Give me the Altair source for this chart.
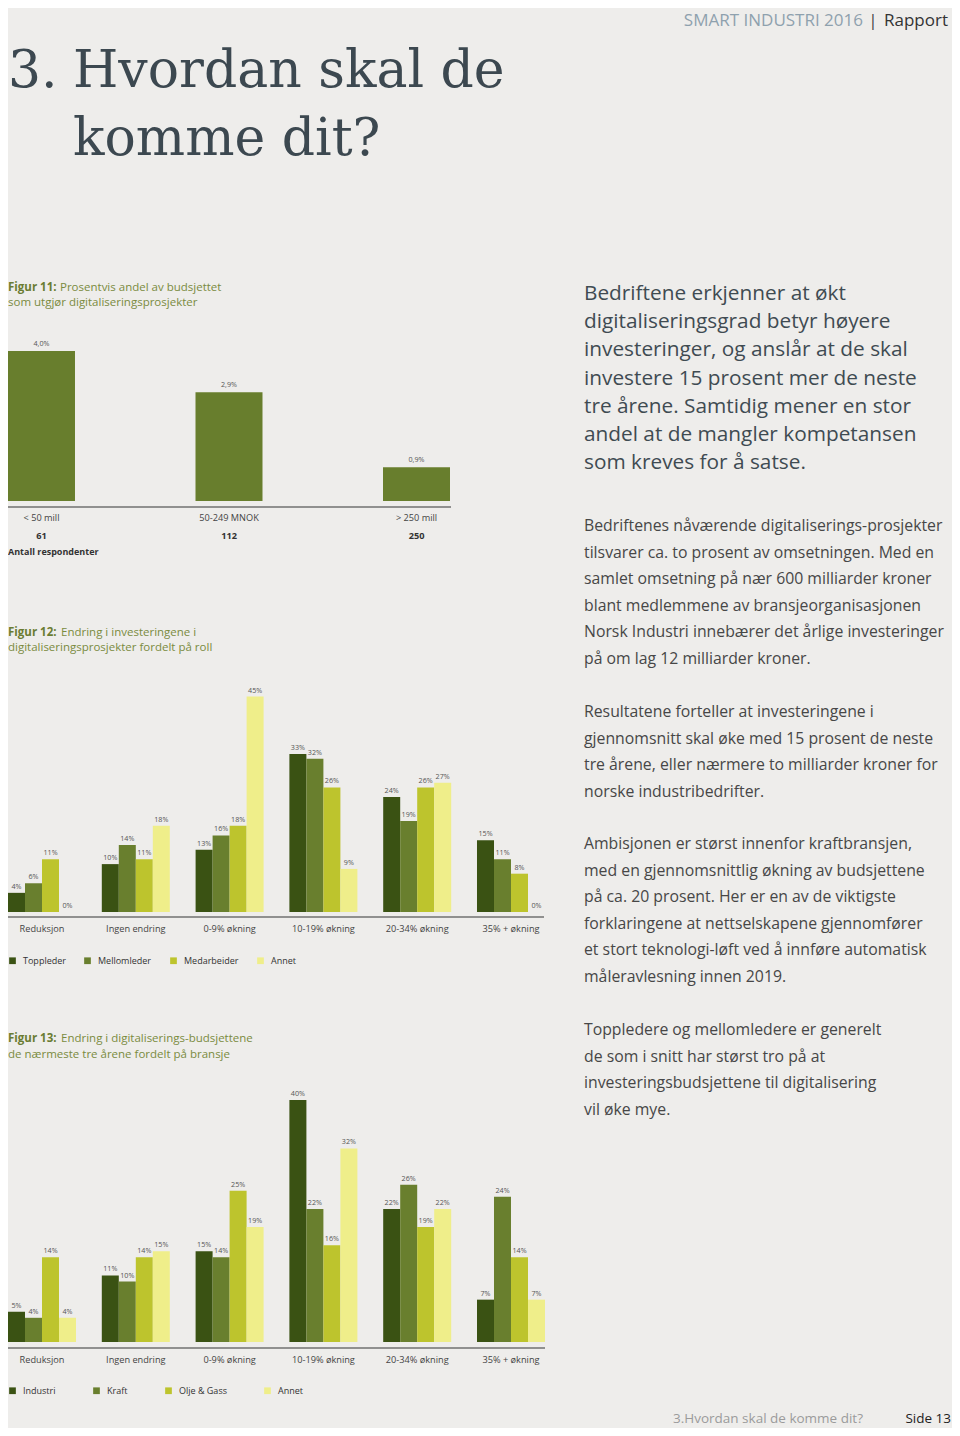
import altair as alt
import pandas as pd

# ---------------- data ----------------
f11_cats = ["< 50 mill", "50-249 MNOK", "> 250 mill"]
f11_vals = [4.0, 2.9, 0.9]
f11_resp = [61, 112, 250]

groups = ["Reduksjon", "Ingen endring", "0-9% økning", "10-19% økning", "20-34% økning", "35% +  økning"]

f12_series = ["Toppleder", "Mellomleder", "Medarbeider", "Annet"]
f12_toppleder = [4, 10, 13, 33, 24, 15]
f12_mellomleder = [6, 14, 16, 32, 19, 11]
f12_medarbeider = [11, 11, 18, 26, 26, 8]
f12_annet = [0, 18, 45, 9, 27, 0]

f13_series = ["Industri", "Kraft", "Olje & Gass", "Annet"]
f13_industri = [5, 11, 15, 40, 22, 7]
f13_kraft = [4, 10, 14, 22, 26, 24]
f13_olje = [14, 14, 25, 16, 19, 14]
f13_annet = [4, 15, 19, 32, 22, 7]

lead_lines = [
    "Bedriftene erkjenner at økt",
    "digitaliseringsgrad betyr høyere",
    "investeringer, og anslår at de skal",
    "investere 15 prosent mer de neste",
    "tre årene. Samtidig mener en stor",
    "andel at de mangler kompetansen",
    "som kreves for å satse.",
]
p2_lines = [
    "Bedriftenes nåværende digitaliserings-prosjekter",
    "tilsvarer ca. to prosent av omsetningen. Med en",
    "samlet omsetning på nær 600 milliarder kroner",
    "blant medlemmene av bransjeorganisasjonen",
    "Norsk Industri innebærer det årlige investeringer",
    "på om lag 12 milliarder kroner.",
]
p3_lines = [
    "Resultatene forteller at investeringene i",
    "gjennomsnitt skal øke med 15 prosent de neste",
    "tre årene, eller nærmere to milliarder kroner for",
    "norske industribedrifter.",
]
p4_lines = [
    "Ambisjonen er størst innenfor kraftbransjen,",
    "med en gjennomsnittlig økning av budsjettene",
    "på ca. 20 prosent. Her er en av de viktigste",
    "forklaringene at nettselskapene gjennomfører",
    "et stort teknologi-løft ved å innføre automatisk",
    "måleravlesning innen 2019.",
]
p5_lines = [
    "Toppledere og mellomledere er generelt",
    "de som i snitt har størst tro på at",
    "investeringsbudsjettene til digitalisering",
    "vil øke mye.",
]

# ---------------- styles ----------------
BG = "#EEEDEB"
SANS = "Open Sans"
SERIF = "DejaVu Serif"
COLORS = ["#3A5213", "#697F2E", "#BDC42D", "#EFEE8A"]
BAR11 = "#687E2D"
CAP_B = "#6A7C32"
CAP_N = "#7A8B3E"
LBL = "#555555"
AX = "#444444"
RULE = "#707070"

one = pd.DataFrame({"k": [0]})


def txt(lines, x, y, size, color, font=SANS, weight="normal", align="left", lh=0):
    kw = dict(align=align, baseline="alphabetic", font=font, fontSize=size,
              color=color, fontWeight=weight)
    if lh:
        kw["lineHeight"] = lh
    return alt.Chart(one).mark_text(**kw).encode(
        x=alt.value(x), y=alt.value(y), text=alt.value(lines))


def rule(x1, x2, y):
    return alt.Chart(one).mark_rule(color=RULE, strokeWidth=1.5).encode(
        x=alt.value(x1), x2=alt.value(x2), y=alt.value(y))


layers = []

# ---------------- header / title / footer ----------------
layers += [
    txt("SMART INDUSTRI 2016", 855, 18, 17, "#8EA1AE", align="right"),
    txt("|", 865, 18, 17, "#444444", align="center"),
    txt("Rapport", 940, 18, 17, "#333333", align="right"),
    txt("3.", 0, 79, 52, "#3C4850", font=SERIF),
    txt("Hvordan skal de", 65, 79, 52, "#3C4850", font=SERIF),
    txt("komme dit?", 65, 147, 52, "#3C4850", font=SERIF),
    txt("3.Hvordan skal de komme dit?", 855, 1415, 13.5, "#9B9B9B", align="right"),
    txt("Side 13", 943, 1415, 13.5, "#222222", align="right"),
]

# ---------------- right column ----------------
layers += [
    txt(lead_lines, 576, 292, 20.8, "#3F4B52", lh=28.2),
    txt(p2_lines, 576, 523, 15.8, "#474747", lh=26.5),
    txt(p3_lines, 576, 709, 15.8, "#474747", lh=26.5),
    txt(p4_lines, 576, 841, 15.8, "#474747", lh=26.5),
    txt(p5_lines, 576, 1027, 15.8, "#474747", lh=26.5),
]

# ---------------- Figure 11 ----------------
df11 = pd.DataFrame({
    "cat": f11_cats,
    "val": f11_vals,
    "resp": [str(r) for r in f11_resp],
    "lab": [f"{v:.1f}".replace(".", ",") + "%" for v in f11_vals],
})
x11 = alt.X("cat:N", sort=f11_cats, axis=None,
            scale=alt.Scale(type="band", domain=f11_cats, range=[0, 442],
                            paddingInner=0.6427, paddingOuter=0))
y11 = alt.Y("val:Q", axis=None,
            scale=alt.Scale(domain=[0, 4], range=[493, 343], nice=False, zero=True))
b11 = alt.Chart(df11)
layers += [
    txt("Figur 11:", 0, 282.5, 11.5, CAP_B, weight="bold"),
    txt("Prosentvis andel av budsjettet", 52, 282.5, 11.5, CAP_N),
    txt("som utgjør digitaliseringsprosjekter", 0, 298, 11.5, CAP_N),
    b11.mark_bar(color=BAR11).encode(x=x11, y=y11),
    b11.mark_text(dy=-5.5, baseline="alphabetic", font=SANS, fontSize=7.2, color=LBL).encode(
        x=x11, y=y11, text="lab:N"),
    rule(0, 443, 499),
    b11.mark_text(baseline="alphabetic", font=SANS, fontSize=9.2, color=AX).encode(
        x=x11, y=alt.value(513), text="cat:N"),
    b11.mark_text(baseline="alphabetic", font=SANS, fontSize=9.2, fontWeight="bold", color="#333333").encode(
        x=x11, y=alt.value(531), text="resp:N"),
    txt("Antall respondenter", 0, 547, 9, "#333333", weight="bold"),
]


# ---------------- grouped bar helper ----------------
def grouped(series, cols, xr, ybase, ytop, vmax, rule_y, rule_x, cat_y, leg_y, col_pad):
    rows = []
    for s, vals in zip(series, cols):
        for g, v in zip(groups, vals):
            rows.append({"group": g, "series": s, "val": v, "lab": f"{v}%"})
    df = pd.DataFrame(rows)
    xg = alt.X("group:N", sort=groups, axis=None,
               scale=alt.Scale(type="band", domain=groups, range=xr,
                               paddingInner=0.275, paddingOuter=0))
    xo = alt.XOffset("series:N", sort=series,
                     scale=alt.Scale(type="band", domain=series, paddingInner=0, paddingOuter=0))
    yv = alt.Y("val:Q", axis=None,
               scale=alt.Scale(domain=[0, vmax], range=[ybase, ytop], nice=False, zero=True))
    col = alt.Color("series:N", sort=series,
                    scale=alt.Scale(domain=series, range=COLORS),
                    legend=alt.Legend(orient="none", legendX=0, legendY=leg_y,
                                      direction="horizontal", title=None,
                                      symbolType="square", symbolSize=45,
                                      symbolStrokeWidth=0, symbolOpacity=1,
                                      labelFont=SANS, labelFontSize=9,
                                      labelColor="#333333", labelOffset=6,
                                      columnPadding=col_pad, padding=0))
    base = alt.Chart(df)
    gdf = pd.DataFrame({"group": groups})
    return [
        base.mark_bar().encode(x=xg, xOffset=xo, y=yv, color=col),
        base.mark_text(dy=-4, baseline="alphabetic", font=SANS, fontSize=7.2, color=LBL).encode(
            x=xg, xOffset=xo, y=yv, text="lab:N"),
        rule(rule_x[0], rule_x[1], rule_y),
        alt.Chart(gdf).mark_text(baseline="alphabetic", font=SANS, fontSize=9.2, color=AX).encode(
            x=xg, y=alt.value(cat_y), text="group:N"),
    ]


# ---------------- Figure 12 ----------------
layers += [
    txt("Figur 12:", 0, 627.5, 11.5, CAP_B, weight="bold"),
    txt("Endring i investeringene i", 53, 627.5, 11.5, CAP_N),
    txt("digitaliseringsprosjekter fordelt på roll", 0, 643, 11.5, CAP_N),
]
layers += grouped(f12_series, [f12_toppleder, f12_mellomleder, f12_medarbeider, f12_annet],
                  [0, 537], 904, 688.5, 45, 909, (0, 536), 923.5, 948, 17)

# ---------------- Figure 13 ----------------
layers += [
    txt("Figur 13:", 0, 1034, 11.5, CAP_B, weight="bold"),
    txt("Endring i digitaliserings-budsjettene", 53, 1034, 11.5, CAP_N),
    txt("de nærmeste tre årene fordelt på bransje", 0, 1050, 11.5, CAP_N),
]
layers += grouped(f13_series, [f13_industri, f13_kraft, f13_olje, f13_annet],
                  [0, 537], 1334, 1092, 40, 1340, (0, 537), 1354.5, 1378, 36)

chart = alt.layer(*layers).resolve_scale(
    x="independent", y="independent", xOffset="independent", color="independent"
).properties(
    width=944, height=1420, background=BG, padding=0, autosize="none"
).configure_view(stroke=None)

chart.save("out.html", embed_options={"renderer": "svg", "actions": False})
